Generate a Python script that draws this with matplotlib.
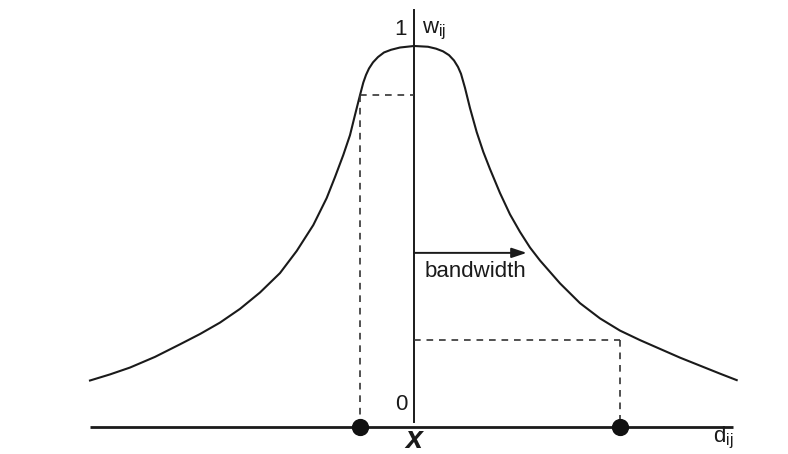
import numpy as np
import matplotlib.pyplot as plt

plt.rcParams['font.family'] = ['Liberation Sans', 'DejaVu Sans']
plt.rcParams['mathtext.fontset'] = 'custom'
plt.rcParams['mathtext.rm'] = 'Liberation Sans'
plt.rcParams['mathtext.it'] = 'Liberation Sans:italic'

# kernel weight curve (distance from x, weight 0..1)
left_d = [-3.24, -3.04, -2.84, -2.59, -2.34, -2.14, -1.94, -1.74, -1.54, -1.34,
          -1.173, -1.007, -0.873, -0.79, -0.707, -0.64, -0.59, -0.54, -0.507, -0.48,
          -0.45, -0.41, -0.36, -0.30, -0.23, -0.14, 0.0]
left_w = [0.122, 0.138, 0.156, 0.184, 0.217, 0.244, 0.274, 0.310, 0.353, 0.404,
          0.462, 0.530, 0.601, 0.656, 0.714, 0.766, 0.819, 0.871, 0.904, 0.924,
          0.941, 0.957, 0.971, 0.983, 0.990, 0.996, 1.0]
right_d = [0.14, 0.22, 0.29, 0.35, 0.40, 0.44, 0.47, 0.51, 0.56, 0.627,
           0.693, 0.76, 0.86, 0.96, 1.06, 1.16, 1.26, 1.46, 1.66, 1.86,
           2.06, 2.26, 2.46, 2.66, 2.86, 3.06, 3.227]
right_w = [0.998, 0.993, 0.986, 0.976, 0.962, 0.945, 0.927, 0.890, 0.837, 0.774,
           0.722, 0.677, 0.614, 0.558, 0.512, 0.471, 0.437, 0.377, 0.325, 0.285,
           0.253, 0.228, 0.205, 0.182, 0.161, 0.140, 0.123]

# two sample points on the distance axis and their weights
point_d = [-0.54, 2.06]
point_w = [0.871, 0.228]

bandwidth = 1.127
axis_left, axis_right = -3.24, 3.19
axis_top = 1.094

curve_d = np.array(left_d + right_d)
curve_w = np.array(left_w + right_w)

fig = plt.figure(figsize=(7.88, 4.54), dpi=100)
ax = fig.add_axes([0, 0, 1, 1])
ax.set_xlim(-4.14, 3.74)
ax.set_ylim(-0.0709, 1.1207)
ax.axis('off')

# axes
ax.plot([axis_left, axis_right], [0, 0], color='#1a1a1a', lw=2.0, solid_capstyle='butt')
ax.plot([0, 0], [0.014, axis_top], color='#1a1a1a', lw=1.4)

# curve
ax.plot(curve_d, curve_w, color='#1a1a1a', lw=1.5, solid_joinstyle='round')

# dashed guides
dash = dict(color='#333333', lw=1.2, ls=(0, (4, 3.5)))
ax.plot([point_d[0], point_d[0]], [0, point_w[0]], **dash)
ax.plot([point_d[0], 0], [point_w[0], point_w[0]], **dash)
ax.plot([0, point_d[1]], [point_w[1], point_w[1]], **dash)
ax.plot([point_d[1], point_d[1]], [point_w[1], 0], **dash)

ax.scatter(point_d, [0, 0], s=130, color='#111111', zorder=5)

# bandwidth arrow
ax.annotate('', xy=(bandwidth, 0.457), xytext=(0, 0.457),
            arrowprops=dict(arrowstyle='-|>,head_length=0.9,head_width=0.3',
                            color='#1a1a1a', lw=1.4, shrinkA=0, shrinkB=0))
ax.text(0.11, 0.408, 'bandwidth', fontsize=16, ha='left', va='center', color='#1a1a1a')

# labels
ax.text(-0.13, 1.044, '1', fontsize=16, ha='center', va='center', color='#1a1a1a')
ax.text(0.08, 1.04, r'w$_{\mathrm{ij}}$', fontsize=16, ha='left', va='center', color='#1a1a1a')
ax.text(-0.125, 0.059, '0', fontsize=16, ha='center', va='center', color='#1a1a1a')
ax.text(0.0, -0.034, 'x', fontsize=22, fontweight='bold', fontstyle='italic',
        ha='center', va='center', color='#1a1a1a')
ax.text(2.99, -0.03, r'd$_{\mathrm{ij}}$', fontsize=16, ha='left', va='center', color='#1a1a1a')

fig.savefig('out.png', dpi=100)
